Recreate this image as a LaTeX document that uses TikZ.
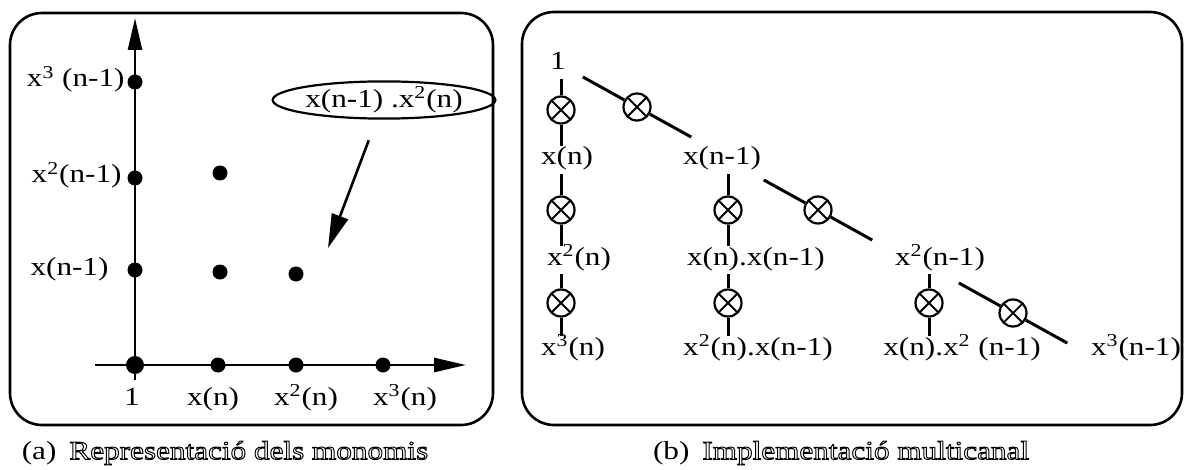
\documentclass[tikz,border=0pt]{standalone}
\usepackage{fontspec}
\setmainfont{Liberation Serif}[FakeStretch=1.2]
\usetikzlibrary{arrows.meta,positioning,shapes.geometric,calc}

% outlined caption text (text render mode 1)
\newcommand{\hollow}[1]{\special{pdf:literal direct 1 Tr 0.5 w}#1\special{pdf:literal direct 0 Tr}}
\newcommand{\sq}[1]{\textsuperscript{#1}}

\tikzset{
  panel/.style={line width=1.3pt,rounded corners=16pt},
  axis/.style={line width=1.3pt,-{Triangle[length=16pt,width=7pt]}},
  dot/.style={circle,fill,inner sep=0pt,minimum size=7.5pt},
  lbl/.style={inner sep=2pt,text height=0.75em,text depth=0.25em},
  wire/.style={line width=1.5pt},
  mult/.style={circle,draw,line width=1.1pt,inner sep=0pt,minimum size=13.5pt,
    path picture={\draw[line width=0.9pt]
      (path picture bounding box.north west) -- (path picture bounding box.south east)
      (path picture bounding box.north east) -- (path picture bounding box.south west);}},
}

\begin{document}
\begin{tikzpicture}[x=0.5pt,y=-0.5pt,font=\fontsize{13}{15}\selectfont]
  \useasboundingbox (0,0) rectangle (1186,470);

  % (a) monomials on the grid
  \draw[panel] (10,13) rectangle (493,425);
  \coordinate (ylo) at (135,380);
  \coordinate (yhi) at (135,18);
  \coordinate (xlo) at (95,365);
  \coordinate (xhi) at (466,365);
  \draw[axis] (ylo) -- (yhi);
  \draw[axis] (xlo) -- (xhi);
  \node[dot,minimum size=9pt] (dot-o) at (135,365) {};
  \foreach \x/\y/\n in {135/270/a1, 135/178/a2, 135/82/a3, 218/365/b1, 296/365/b2,
      383/365/b3, 220/173/m1, 220/272/m2, 296/274/m3}
    \node[dot] (dot-\n) at (\x,\y) {};
  \foreach \x/\y/\n/\t in {129/82/yl3/x\sq{3} (n-1), 126/178/yl2/x\sq{2}(n-1), 113/270/yl1/x(n-1)}
    \node[lbl,anchor=east] (\n) at (\x,\y) {\t};
  \foreach \x/\n/\t in {132/xl0/1, 213/xl1/x(n), 306/xl2/x\sq{2}(n), 405/xl3/x\sq{3}(n)}
    \node[lbl] (\n) at (\x,400) {\t};
  \node[draw,ellipse,line width=1.1pt,minimum width=107pt,minimum height=18.5pt,inner sep=0pt]
    (mono) at (384,100) {x(n-1) .x\sq{2}(n)};
  \coordinate (aim) at (328,248);
  \draw[line width=1.3pt,-{Triangle[length=17pt,width=8.5pt]},shorten <=11pt] (mono) -- (aim);

  % (b) multichannel tree
  \draw[panel] (522,12) rectangle (1182,425);
  \foreach \x/\y/\n/\t in {558/65/one/1, 567/160/xn/x(n), 579/260/xxn/x\sq{2}(n),
      573/350/xxxn/x\sq{3}(n), 722/160/xm/x(n-1), 756/260/xnxm/x(n).x(n-1),
      758/350/xxnxm/x\sq{2}(n).x(n-1), 940/260/xxm/x\sq{2}(n-1),
      962/350/xnxxm/x(n).x\sq{2} (n-1), 1136/350/xxxm/x\sq{3}(n-1)}
    \node[lbl] (\n) at (\x,\y) {\t};
  \foreach \x/\y/\n in {561/110/v1, 561/210/v2, 561/303/v3, 728/210/v4, 728/303/v5,
      929/303/v6, 637/107/h1, 818/210/h2, 1013/313/h3}
    \node[mult] (\n) at (\x,\y) {};
  \foreach \m/\s/\t in {v1/one/xn, v2/xn/xxn, v3/xxn/xxxn, v4/xm/xnxm, v5/xnxm/xxnxm, v6/xxm/xnxxm}
    \draw[wire] (\m |- \s.south) -- (\m) -- (\m |- \t.north);
  \foreach \m in {h1,h2,h3}
    \draw[wire] ($(\m)+(151:31pt)$) -- (\m) -- ($(\m)+(-29:31pt)$);

  % captions
  \node (capa) at (225,453) {(a)\enspace\hollow{Representació dels monomis}};
  \node (capb) at (841,453) {(b)\enspace\hollow{Implementació multicanal}};
\end{tikzpicture}
\end{document}
